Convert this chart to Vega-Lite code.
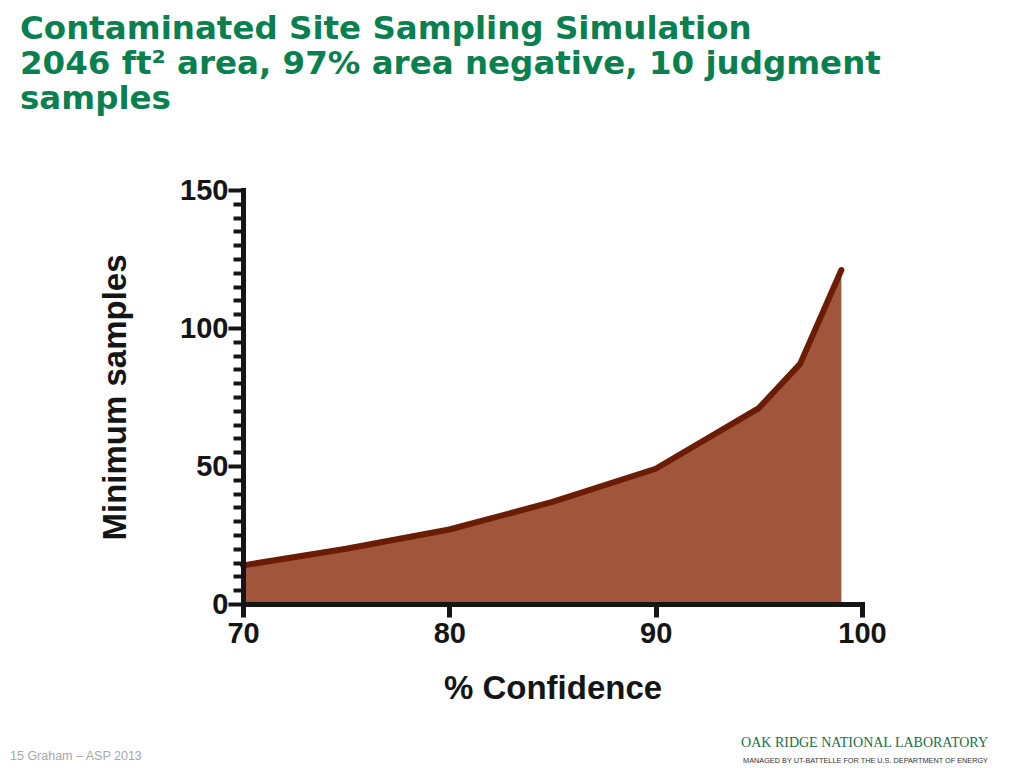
{
  "$schema": "https://vega.github.io/schema/vega-lite/v6.json",
  "autosize": "none",
  "padding": {"left": 243, "top": 190, "right": 781, "bottom": 578},
  "background": "white",
  "bounds": "flush",
  "title": {
    "text": "15  Graham – ASP 2013",
    "orient": "bottom",
    "anchor": "start",
    "frame": "group",
    "font": "Liberation Sans",
    "fontSize": 12.5,
    "fontWeight": "normal",
    "color": "#a8a8a8",
    "dx": -233,
    "dy": -14,
    "offset": 0
  },
  "vconcat": [
    {
      "bounds": "flush",
      "title": {
        "text": ["Contaminated Site Sampling Simulation", "2046 ft² area, 97% area negative, 10 judgment", "samples"],
        "orient": "top",
        "anchor": "start",
        "baseline": "alphabetic",
        "frame": "group",
        "font": "DejaVu Sans",
        "fontSize": 32.5,
        "fontWeight": "bold",
        "color": "#0a7f4f",
        "lineHeight": 35,
        "dx": -223,
        "offset": 35
      },
      "vconcat": [
        {
          "width": 619,
          "height": 414,
          "title": {
            "text": "OAK RIDGE NATIONAL LABORATORY",
            "subtitle": "MANAGED BY UT-BATTELLE FOR THE U.S. DEPARTMENT OF ENERGY",
            "orient": "bottom",
            "anchor": "end",
            "frame": "group",
            "font": "Liberation Serif",
            "fontSize": 14,
            "fontWeight": "normal",
            "color": "#1a6e45",
            "subtitleFont": "Liberation Sans",
            "subtitleFontSize": 7.3,
            "subtitleColor": "#333333",
            "subtitlePadding": 7,
            "dx": 126,
            "offset": 31
          },
          "data": {
            "values": [
              {"confidence": 70, "samples": 14},
              {"confidence": 75, "samples": 20},
              {"confidence": 80, "samples": 27},
              {"confidence": 85, "samples": 37},
              {"confidence": 90, "samples": 49},
              {"confidence": 95, "samples": 71},
              {"confidence": 97, "samples": 87},
              {"confidence": 99, "samples": 121}
            ]
          },
          "encoding": {
            "x": {
              "field": "confidence",
              "type": "quantitative",
              "scale": {"domain": [70, 100], "nice": false, "zero": false},
              "axis": {
                "title": "% Confidence",
                "values": [70, 80, 90, 100],
                "grid": false,
                "zindex": 1,
                "domainColor": "#151515",
                "domainWidth": 5,
                "domainCap": "square",
                "tickColor": "#151515",
                "tickWidth": 5,
                "tickSize": 13,
                "labelFont": "Liberation Sans",
                "labelFontSize": 29,
                "labelFontWeight": "bold",
                "labelColor": "#151515",
                "labelPadding": 2,
                "labelFlush": false,
                "titleFont": "Liberation Sans",
                "titleFontSize": 33,
                "titleFontWeight": "bold",
                "titleColor": "#151515",
                "titlePadding": 24
              }
            },
            "y": {
              "field": "samples",
              "type": "quantitative",
              "scale": {"domain": [0, 150], "nice": false},
              "axis": {
                "title": "Minimum samples",
                "values": [0, 5, 10, 15, 20, 25, 30, 35, 40, 45, 50, 55, 60, 65, 70, 75, 80, 85, 90, 95, 100, 105, 110, 115, 120, 125, 130, 135, 140, 145, 150],
                "labelExpr": "datum.value % 50 === 0 ? datum.label : ''",
                "grid": false,
                "zindex": 1,
                "domainColor": "#151515",
                "domainWidth": 5,
                "domainCap": "square",
                "tickColor": "#151515",
                "tickWidth": 4,
                "tickSize": {"condition": {"test": "datum.value % 50 === 0", "value": 15}, "value": 10},
                "labelFont": "Liberation Sans",
                "labelFontSize": 29,
                "labelFontWeight": "bold",
                "labelColor": "#151515",
                "labelPadding": 0,
                "labelFlush": false,
                "labelOverlap": false,
                "titleFont": "Liberation Sans",
                "titleFontSize": 33,
                "titleFontWeight": "bold",
                "titleColor": "#151515",
                "titlePadding": 47
              }
            }
          },
          "layer": [
            {"mark": {"type": "area", "color": "#a1553b", "opacity": 1}},
            {"mark": {"type": "line", "color": "#6b1c04", "strokeWidth": 6, "strokeCap": "round", "strokeJoin": "round"}}
          ]
        }
      ]
    }
  ],
  "config": {"view": {"stroke": null}}
}
